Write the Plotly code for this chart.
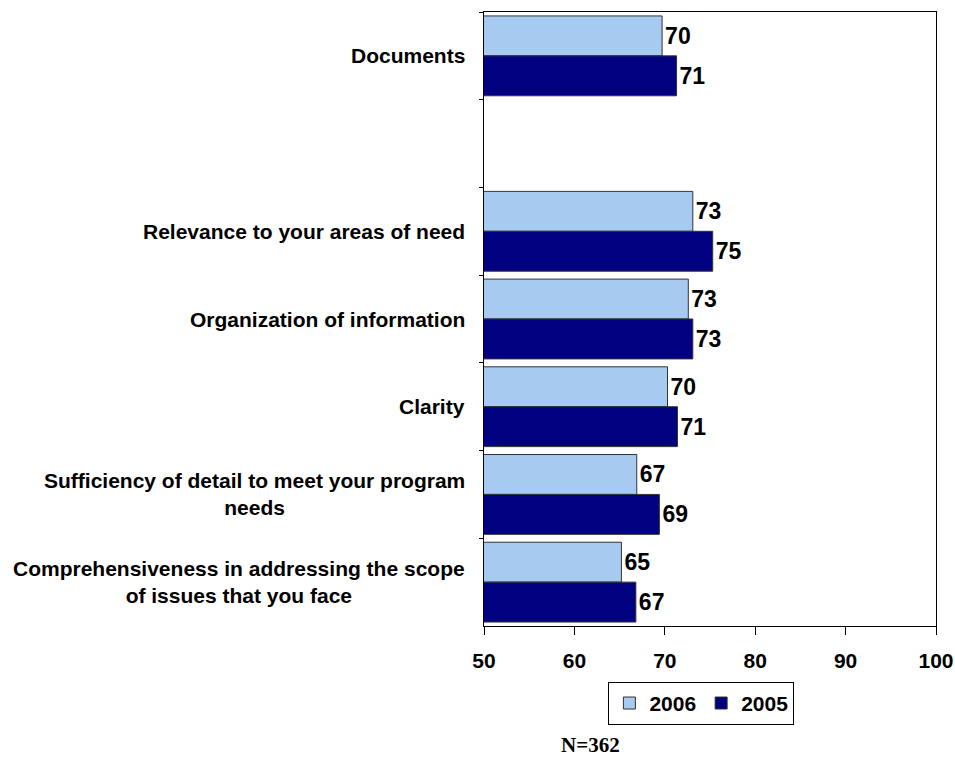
import plotly.graph_objects as go

# Rating categories, top to bottom; the blank entry leaves an empty row
categories = [
    "Documents",
    " ",
    "Relevance to your areas of need",
    "Organization of information",
    "Clarity",
    "Sufficiency of detail to meet your program<br>needs",
    "Comprehensiveness in addressing the scope<br>of issues that you face",
]
scores_2006 = [69.7, None, 73.1, 72.6, 70.3, 66.9, 65.2]
scores_2005 = [71.3, None, 75.3, 73.1, 71.4, 69.4, 66.8]
x_ticks = [50, 60, 70, 80, 90, 100]
footnote = "N=362"

FONT = "Liberation Sans, Arial, sans-serif"
LIGHT = "#A6CAF0"
NAVY = "#000080"

fig = go.Figure()
for name, vals, color in [("2006", scores_2006, LIGHT), ("2005", scores_2005, NAVY)]:
    fig.add_trace(go.Bar(
        name=name,
        y=categories,
        x=vals,
        orientation="h",
        marker=dict(color=color, line=dict(color="#333333", width=1)),
        texttemplate="%{x:.0f}",
        textposition="outside",
        textfont=dict(family=FONT, size=23, color="black", weight="bold"),
        cliponaxis=False,
    ))

# Centered multi-line category labels to the left of the plot area
for cat in categories:
    if not cat.strip():
        continue
    fig.add_annotation(
        text=cat, xref="paper", x=0, xanchor="right", xshift=-17,
        yref="y", y=cat, yanchor="middle", align="center", showarrow=False,
        font=dict(family=FONT, size=21, color="black", weight="bold"),
    )

fig.add_annotation(
    text=footnote, xref="paper", yref="paper", x=(590 - 484) / 452, y=-0.193,
    xanchor="center", yanchor="middle", showarrow=False,
    font=dict(family="Liberation Serif, Times New Roman, serif", size=21,
              color="black", weight="bold"),
)

fig.update_layout(
    template="none",
    width=955, height=759,
    margin=dict(l=484, r=19, t=12, b=133, autoexpand=False),
    paper_bgcolor="white", plot_bgcolor="white",
    barmode="group", bargap=0.09, bargroupgap=0,
    font=dict(family=FONT, size=20, color="black", weight="bold"),
    showlegend=True,
    legend=dict(
        orientation="h", x=0.481, xanchor="center", y=-0.091, yanchor="top",
        bordercolor="black", borderwidth=1, bgcolor="white",
        font=dict(family=FONT, size=21, color="black", weight="bold"),
        itemwidth=30, tracegroupgap=0,
    ),
    xaxis=dict(
        range=[50, 100], tickvals=x_ticks, ticks="outside", ticklen=8,
        tickcolor="black", showline=True, linecolor="black", linewidth=1,
        mirror=True, showgrid=False, zeroline=False, automargin=False,
        ticklabelstandoff=8,
        tickfont=dict(family=FONT, size=21, color="black", weight="bold"),
    ),
    yaxis=dict(
        categoryorder="array", categoryarray=categories,
        range=[len(categories) - 0.5, -0.5],
        showticklabels=False, ticks="outside", tickson="boundaries", ticklen=4,
        tickcolor="black", showline=True, linecolor="black", linewidth=1,
        mirror=True, showgrid=False, zeroline=False, automargin=False,
    ),
)

fig.write_html("out.html")
